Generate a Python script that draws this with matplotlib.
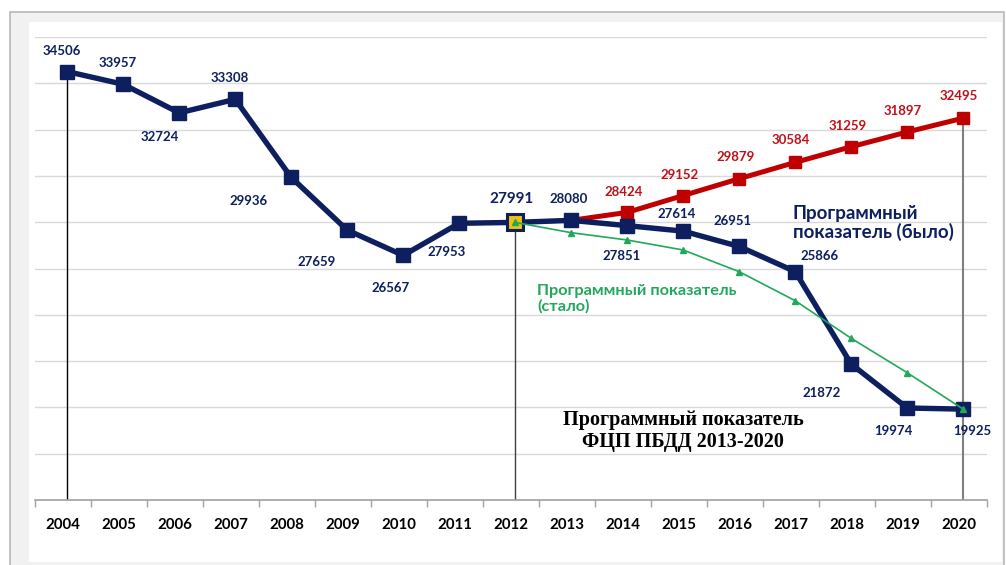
import matplotlib
matplotlib.use("Agg")
import matplotlib.pyplot as plt
from matplotlib.patches import Rectangle

years = ["2004", "2005", "2006", "2007", "2008", "2009", "2010", "2011", "2012",
         "2013", "2014", "2015", "2016", "2017", "2018", "2019", "2020"]
actual = [34506, 33957, 32724, 33308, 29936, 27659, 26567, 27953, 27991,
          28080, 27851, 27614, 26951, 25866, 21872, 19974, 19925]
target_old = [28080, 28424, 29152, 29879, 30584, 31259, 31897, 32495]   # 2013..2020
target_new = [27991, 27547, 27231, 26799, 25862, 24609, 22985, 21499, 19925]  # 2012..2020

NAVY = "#0d1f5e"
RED = "#c00000"
GREEN = "#22a85a"
FONT = ["Lato", "DejaVu Sans"]

W, H = 1006, 565
fig = plt.figure(figsize=(W / 100, H / 100), dpi=100)
fig.patch.set_facecolor("white")

def fx(px):
    return px / W

def fy(py):
    return 1 - py / H

# frame
fig.add_artist(Rectangle((fx(9.5), fy(575)), fx(1004.5) - fx(9.5), fy(12) - fy(575),
                         transform=fig.transFigure, facecolor="#f1f1f1",
                         edgecolor="#b8b8b8", lw=1.2, zorder=-2))
fig.add_artist(Rectangle((fx(29), fy(562)), fx(1002) - fx(29), fy(22) - fy(562),
                         transform=fig.transFigure, facecolor="white",
                         edgecolor="none", zorder=-1))

SHIFT = 0.075  # categories labels sit slightly left of the plotted points
ax = fig.add_axes([fx(35), fy(500), fx(987) - fx(35), fy(37) - fy(500)])
ax.set_zorder(2)
ax.set_facecolor("none")
ax.set_xlim(-0.5 - SHIFT, len(years) - 0.5 - SHIFT)
ax.set_ylim(16000, 36000)

# grid
for v in range(18000, 36001, 2000):
    ax.axhline(v, color="#d9d9d9", lw=1, zorder=1)
for s in ["top", "right", "left"]:
    ax.spines[s].set_visible(False)
ax.spines["bottom"].set_color("#a0a0a0")
ax.spines["bottom"].set_linewidth(1.2)
ax.set_yticks([])

ax.set_xticks([i - 0.5 - SHIFT for i in range(len(years) + 1)], minor=False)
ax.set_xticklabels([])
ax.tick_params(axis="x", which="major", length=5, color="#a0a0a0", width=1)
ax.set_xticks([i - SHIFT for i in range(len(years))], minor=True)
ax.set_xticklabels(years, minor=True, fontsize=10.8, fontweight="bold",
                   family=FONT, color="black")
ax.tick_params(axis="x", which="minor", length=0, pad=13)

x_all = list(range(len(years)))
x_old = x_all[9:]
x_new = x_all[8:]

# vertical reference lines
ax.plot([0, 0], [16000, actual[0]], color="black", lw=1, zorder=2)
ax.plot([8, 8], [16000, actual[8]], color="#404040", lw=1, zorder=2)
ax.plot([16, 16], [16000, target_old[-1]], color="#808080", lw=1.5, zorder=2)

# series
ax.plot(x_old, target_old, color=RED, lw=3.6, marker="s", ms=9,
        solid_joinstyle="miter", zorder=3)
ax.plot(x_all, actual, color=NAVY, lw=3.9, marker="s", ms=9.5,
        solid_joinstyle="miter", zorder=4)
ax.plot([8], [actual[8]], marker="s", ms=11, color="#f0c010",
        markeredgecolor=NAVY, markeredgewidth=2.2, zorder=5)
ax.plot(x_new, target_new, color=GREEN, lw=1.2, marker="^", ms=4.5, zorder=6)

# data labels (pixel offsets from the point)
blue_off = [(-5, 21), (-5, 21), (-19, -24), (-5, 21), (-43, -24), (-31, -32),
            (-13, -33), (-13, -29), (-4, 23), (-3, 21), (-6, -30), (-7, 17),
            (-7, 25), (24, 16), (-30, -29), (-14, -23), (9, -22)]
for i, (v, off) in enumerate(zip(actual, blue_off)):
    big = (i == 8)
    ax.annotate(str(v), (i, v), xytext=off, textcoords="offset pixels",
                ha="center", va="center", color=NAVY, fontweight="bold",
                fontsize=11 if big else 9.5, family=FONT, zorder=7)
red_off = [(0, 20), (-4, 20), (-4, 21), (-4, 22), (-4, 22), (-4, 21), (-4, 21), (-4, 22)]
for i, (v, off) in enumerate(zip(target_old, red_off)):
    if i == 0:
        continue
    ax.annotate(str(v), (x_old[i], v), xytext=off, textcoords="offset pixels",
                ha="center", va="center", color="#c01018", fontweight="bold",
                fontsize=9.5, family=FONT, zorder=7)

# annotations
fig.text(fx(793), fy(223), "Программный\nпоказатель (было)", ha="left", va="center",
         color=NAVY, fontsize=13.5, fontweight="bold", family=FONT,
         linespacing=1.1)
fig.text(fx(537), fy(299), "Программный показатель\n(стало)", ha="left", va="center",
         color=GREEN, fontsize=11.7, fontweight="bold", family=FONT,
         linespacing=1.1)
fig.text(fx(683), fy(431), "Программный показатель\nФЦП ПБДД 2013-2020", ha="center",
         va="center", color="black", fontsize=14.5, fontweight="bold",
         family=["Liberation Serif", "DejaVu Serif"], linespacing=1.15)

fig.savefig("out.png", dpi=100)
